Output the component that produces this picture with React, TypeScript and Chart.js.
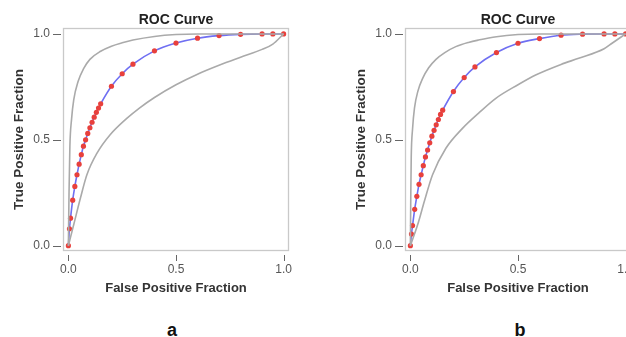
import React, { useEffect, useRef } from "react";
import { Chart, registerables } from "chart.js";

Chart.register(...registerables);

// ---- Data ----
const rocFprA = [0, 0.005, 0.01, 0.02, 0.03, 0.04, 0.05, 0.06, 0.07, 0.08, 0.09, 0.1, 0.11, 0.12, 0.13, 0.14, 0.15, 0.2, 0.25, 0.3, 0.4, 0.5, 0.6, 0.7, 0.8, 0.9, 0.95, 1.0];
const rocTprA = [0, 0.08, 0.13, 0.215, 0.28, 0.335, 0.385, 0.43, 0.47, 0.5, 0.53, 0.557, 0.583, 0.607, 0.63, 0.65, 0.67, 0.753, 0.812, 0.857, 0.92, 0.957, 0.98, 0.992, 0.998, 1.0, 1.0, 1.0];

const upperFprA = [0, 0.003, 0.007, 0.015, 0.025, 0.045, 0.07, 0.1, 0.15, 0.2, 0.25, 0.3, 0.4, 0.5, 0.6, 1.0];
const upperTprA = [0, 0.25, 0.47, 0.6, 0.69, 0.775, 0.835, 0.88, 0.918, 0.942, 0.958, 0.971, 0.988, 0.997, 1.0, 1.0];
const lowerFprA = [0, 0.025, 0.056, 0.086, 0.133, 0.194, 0.27, 0.33, 0.4, 0.5, 0.6, 0.7, 0.8, 0.9, 0.95, 1.0];
const lowerTprA = [0, 0.1, 0.225, 0.335, 0.437, 0.524, 0.6, 0.65, 0.7, 0.76, 0.81, 0.852, 0.89, 0.927, 0.952, 1.0];

const rocFprB = [0, 0.005, 0.01, 0.02, 0.03, 0.04, 0.05, 0.06, 0.07, 0.08, 0.09, 0.1, 0.11, 0.12, 0.13, 0.14, 0.15, 0.2, 0.25, 0.3, 0.4, 0.5, 0.6, 0.7, 0.8, 0.9, 0.95, 1.0];
const rocTprB = [0, 0.055, 0.095, 0.172, 0.233, 0.29, 0.335, 0.378, 0.419, 0.452, 0.486, 0.517, 0.545, 0.571, 0.596, 0.62, 0.64, 0.728, 0.794, 0.844, 0.912, 0.956, 0.978, 0.994, 0.999, 1.0, 1.0, 1.0];

const upperFprB = [0, 0.002, 0.004, 0.01, 0.019, 0.035, 0.057, 0.085, 0.119, 0.16, 0.211, 0.27, 0.316, 0.4, 0.5, 0.6, 1.0];
const upperTprB = [0, 0.25, 0.42, 0.55, 0.65, 0.73, 0.79, 0.84, 0.88, 0.912, 0.94, 0.96, 0.971, 0.987, 0.997, 1.0, 1.0];
const lowerFprB = [0, 0.034, 0.065, 0.103, 0.165, 0.242, 0.316, 0.397, 0.5, 0.582, 0.7, 0.782, 0.9, 0.937, 1.0];
const lowerTprB = [0, 0.1, 0.21, 0.335, 0.46, 0.554, 0.625, 0.696, 0.76, 0.806, 0.856, 0.885, 0.93, 0.956, 1.0];

const tickValues = [0, 0.5, 1.0];
const titleText = "ROC Curve";
const xTitle = "False Positive Fraction";
const yTitle = "True Positive Fraction";
const panelLabels = ["a", "b"];

const FONT = "'Liberation Sans', Arial, Helvetica, sans-serif";

const pts = (xs: number[], ys: number[]) => xs.map((x, i) => ({ x, y: ys[i] }));

const framePlugin = {
  id: "frame",
  beforeDatasetsDraw(chart: any) {
    const { ctx, chartArea: a, scales } = chart;
    ctx.save();
    ctx.strokeStyle = "#c9c9c9";
    ctx.lineWidth = 1.3;
    ctx.strokeRect(a.left + 0.5, a.top + 0.5, a.right - a.left - 1, a.bottom - a.top - 1);
    ctx.strokeStyle = "#666";
    ctx.lineWidth = 1;
    scales.y.ticks.forEach((t: any) => {
      const y = Math.round(scales.y.getPixelForValue(t.value)) + 0.5;
      ctx.beginPath();
      ctx.moveTo(a.left - 10, y);
      ctx.lineTo(a.left - 2, y);
      ctx.stroke();
    });
    scales.x.ticks.forEach((t: any) => {
      const x = Math.round(scales.x.getPixelForValue(t.value)) + 0.5;
      ctx.beginPath();
      ctx.moveTo(x, a.bottom + 4);
      ctx.lineTo(x, a.bottom + 10);
      ctx.stroke();
    });
    ctx.restore();
  },
};

function RocPanel(props: {
  rocX: number[]; rocY: number[];
  upX: number[]; upY: number[];
  loX: number[]; loY: number[];
  left: number;
}) {
  const ref = useRef<HTMLCanvasElement>(null);
  useEffect(() => {
    if (!ref.current) return;
    const setTicks = (scale: any) => {
      scale.ticks = tickValues.map((v) => ({ value: v }));
    };
    const chart = new Chart(ref.current, {
      type: "line",
      data: {
        datasets: [
          {
            data: pts(props.upX, props.upY),
            borderColor: "#aaaaaa",
            borderWidth: 1.6,
            pointRadius: 0,
            cubicInterpolationMode: "monotone",
          },
          {
            data: pts(props.loX, props.loY),
            borderColor: "#aaaaaa",
            borderWidth: 1.6,
            pointRadius: 0,
            cubicInterpolationMode: "monotone",
          },
          {
            data: pts(props.rocX, props.rocY),
            borderColor: "#6f6ff2",
            borderWidth: 1.6,
            pointRadius: 2.6,
            pointBorderWidth: 0,
            pointBackgroundColor: "#e8403c",
            cubicInterpolationMode: "monotone",
          },
        ],
      } as any,
      options: {
        animation: false,
        responsive: false,
        events: [],
        layout: { padding: { left: 0, right: 21, top: 0, bottom: 0 } },
        plugins: {
          legend: { display: false },
          tooltip: { enabled: false },
          title: {
            display: true,
            text: titleText,
            fullSize: false,
            color: "#222",
            font: { family: FONT, size: 14, weight: "bold", lineHeight: 1 },
            padding: { top: 13, bottom: 1 },
          },
        },
        scales: {
          x: {
            type: "linear",
            min: -0.025,
            max: 1.025,
            afterBuildTicks: setTicks,
            afterFit: (s: any) => { s.height = 49; },
            grid: { display: false, drawTicks: false },
            border: { display: false },
            ticks: {
              color: "#555",
              padding: 11,
              maxRotation: 0,
              font: { family: FONT, size: 12 },
              callback: (v: any) => Number(v).toFixed(1),
            },
            title: {
              display: true,
              text: xTitle,
              color: "#333",
              font: { family: FONT, size: 13, weight: "bold" },
              padding: { top: 0, bottom: 4 },
            },
          },
          y: {
            type: "linear",
            min: -0.025,
            max: 1.028,
            afterBuildTicks: setTicks,
            afterFit: (s: any) => { s.width = 63; },
            grid: { display: false, drawTicks: false },
            border: { display: false },
            ticks: {
              color: "#555",
              padding: 13,
              font: { family: FONT, size: 12 },
              callback: (v: any) => Number(v).toFixed(1),
            },
            title: {
              display: true,
              text: yTitle,
              color: "#333",
              font: { family: FONT, size: 13.5, weight: "bold" },
              padding: { top: 11, bottom: 0 },
            },
          },
        },
      } as any,
      plugins: [framePlugin],
    });
    return () => chart.destroy();
  }, []);
  return (
    <canvas
      ref={ref}
      width={310}
      height={300}
      style={{ position: "absolute", left: props.left, top: 0, width: 310, height: 300 }}
    />
  );
}

export default function App() {
  const labelStyle: React.CSSProperties = {
    position: "absolute",
    top: 321,
    width: 40,
    textAlign: "center",
    fontFamily: FONT,
    fontWeight: "bold",
    fontSize: 18,
    lineHeight: "18px",
    color: "#111",
  };
  return (
    <div
      style={{
        position: "fixed",
        left: 0,
        top: 0,
        width: 626,
        height: 337,
        overflow: "hidden",
        background: "#fff",
      }}
    >
      <RocPanel rocX={rocFprA} rocY={rocTprA} upX={upperFprA} upY={upperTprA} loX={lowerFprA} loY={lowerTprA} left={0} />
      <RocPanel rocX={rocFprB} rocY={rocTprB} upX={upperFprB} upY={upperTprB} loX={lowerFprB} loY={lowerTprB} left={342} />
      <div style={{ ...labelStyle, left: 152 }}>{panelLabels[0]}</div>
      <div style={{ ...labelStyle, left: 500 }}>{panelLabels[1]}</div>
    </div>
  );
}
